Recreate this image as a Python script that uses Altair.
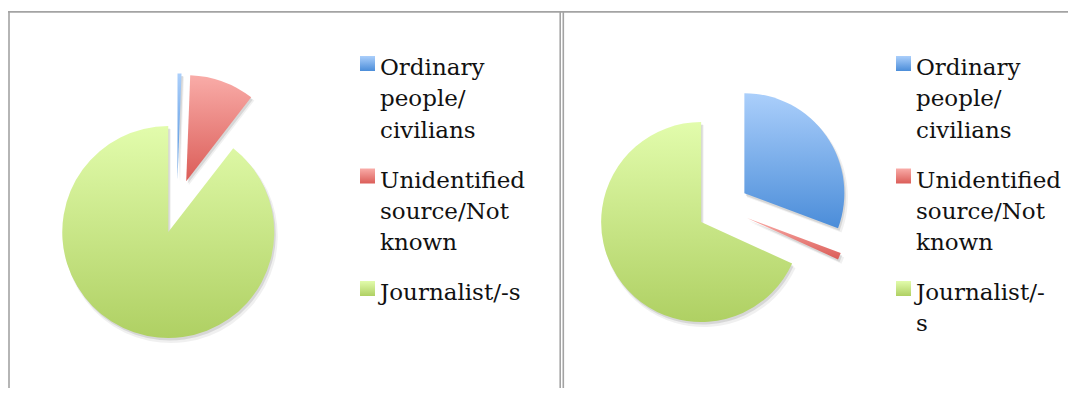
import altair as alt
import pandas as pd

# ---- data ----
categories = ["Ordinary people/civilians", "Unidentified source/Not known", "Journalist/-s"]
left_values = [0.6, 9.9, 89.5]
right_values = [30.7, 1.1, 68.2]
left_labels = ["Ordinary\npeople/\ncivilians", "Unidentified\nsource/Not\nknown", "Journalist/-s"]
right_labels = ["Ordinary\npeople/\ncivilians", "Unidentified\nsource/Not\nknown", "Journalist/-\ns"]

# ---- styling / layout ----
FONT = "DejaVu Serif"
GRADS = {
    categories[0]: ("#abcffb", "#4b8dd9"),
    categories[1]: ("#f9aca8", "#db5d58"),
    categories[2]: ("#e2fcac", "#afd063"),
}
PANELS = {
    1: dict(cx=169, cy=198.5, r=106, explode=27, lx=359.5, tx=372),
    2: dict(cx=715, cy=200, r=100, explode=26, lx=895.5, tx=908),
}
W, H = 1060, 380

rows = []
for p, vals, labs in ((1, left_values, left_labels), (2, right_values, right_labels)):
    for i, (c, v, l) in enumerate(zip(categories, vals, labs)):
        rows.append({"panel": p, "order": i, "category": c, "value": v, "label": l})
df = pd.DataFrame(rows)


def grad(c):
    top, bottom = GRADS[c]
    return alt.LinearGradient(
        gradient="linear", x1=0, y1=0, x2=0, y2=1,
        stops=[alt.GradientStop(color=top, offset=0), alt.GradientStop(color=bottom, offset=1)],
    )


def pie_base(p):
    P = PANELS[p]
    return (
        alt.Chart(df)
        .transform_filter(alt.datum.panel == p)
        .transform_joinaggregate(total="sum(value)")
        .transform_window(cum="sum(value)", sort=[alt.SortField("order")], frame=[None, 0])
        .transform_calculate(
            t1="2*PI*datum.cum/datum.total",
            t0="2*PI*(datum.cum-datum.value)/datum.total",
        )
        .transform_calculate(mid="(datum.t0+datum.t1)/2")
        .transform_calculate(
            cx=f"{P['cx']} + {P['explode']}*sin(datum.mid)",
            cy=f"{P['cy']} - {P['explode']}*cos(datum.mid)",
        )
    )


def arc_enc():
    return dict(
        x=alt.X("cx:Q", scale=None, axis=None),
        y=alt.Y("cy:Q", scale=None, axis=None),
        theta=alt.Theta("t0:Q", scale=None),
        theta2=alt.Theta2("t1:Q"),
    )


layers = []

# panel borders (decoration)
one = alt.Data(values=[{"a": 1}])
border = "#a3a3a3"
layers.append(alt.Chart(one).mark_rule(color=border, strokeWidth=1.7).encode(
    x=alt.value(0), x2=alt.value(W), y=alt.value(3.8)))
for xv in (1, 552.2, 555.3):
    layers.append(alt.Chart(one).mark_rule(color=border, strokeWidth=1.6).encode(
        x=alt.value(xv), y=alt.value(3), y2=alt.value(H)))

for p in (1, 2):
    P = PANELS[p]
    base = pie_base(p)
    # soft shadow
    layers.append(base.mark_arc(radius=P["r"] + 1, fill="#000", opacity=0.06, xOffset=2.5, yOffset=4,
                                strokeWidth=0).encode(**arc_enc()))
    layers.append(base.mark_arc(radius=P["r"], fill="#000", opacity=0.10, xOffset=1.5, yOffset=2.5,
                                strokeWidth=0).encode(**arc_enc()))
    for c in categories:
        layers.append(
            base.transform_filter(alt.datum.category == c)
            .mark_arc(radius=P["r"], fill=grad(c), strokeWidth=0)
            .encode(**arc_enc())
        )

    # legend
    leg = (
        alt.Chart(df)
        .transform_filter(alt.datum.panel == p)
        .transform_calculate(n="length(split(datum.label, '\\n'))")
        .transform_window(cl="sum(n)", sort=[alt.SortField("order")], frame=[None, 0])
        .transform_calculate(ly="67 + (datum.cl - datum.n)*31.3 + datum.order*18.6")
        .transform_calculate(sy="datum.ly - 11.5")
    )
    for c in categories:
        layers.append(
            leg.transform_filter(alt.datum.category == c)
            .mark_square(size=225, fill=grad(c), strokeWidth=0, opacity=1)
            .encode(x=alt.value(P["lx"]), y=alt.Y("sy:Q", scale=None, axis=None))
        )
    layers.append(
        leg.mark_text(font=FONT, fontSize=23, lineHeight=31.3, lineBreak="\n", align="left",
                      baseline="alphabetic", color="#111")
        .encode(x=alt.value(P["tx"]), y=alt.Y("ly:Q", scale=None, axis=None), text="label:N")
    )

chart = (
    alt.layer(*layers)
    .properties(width=W, height=H, autosize="none", padding=0, background="white")
    .configure_view(strokeWidth=0)
)

chart.save("out.html", embed_options={"renderer": "svg", "actions": False})
